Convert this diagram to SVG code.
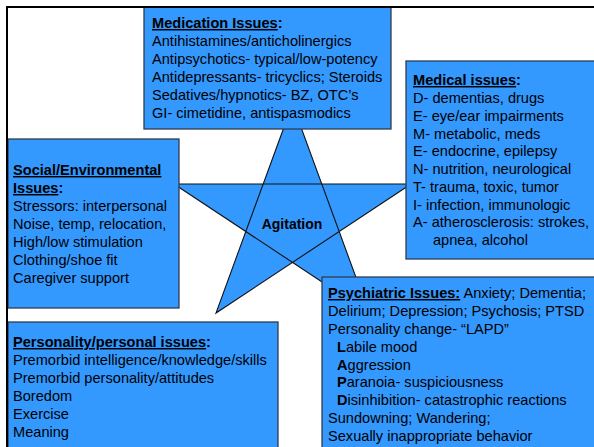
<svg xmlns="http://www.w3.org/2000/svg" width="594" height="447" viewBox="0 0 594 447">
  <style>
    .box { fill: #3399FF; stroke: #2f3d4f; stroke-width: 1.3; }
    .star { fill: #3399FF; stroke: #111; stroke-width: 1.1; stroke-linejoin: miter; }
    text { font-family: "Liberation Sans", Arial, sans-serif; font-size: 14.6px; fill: #000; }
    .h { font-weight: bold; }
    .u { text-decoration: underline; }
    .b { font-weight: bold; }
  </style>
  <rect width="594" height="447" fill="#fff"/>

  <g id="connectors">
    <!-- central five-point star, stroked so the crossing edges show -->
    <polygon class="star" points="292.5,104 216,313 411,184 174,184 369,313"/>
  </g>

  <g id="agitation">
    <text x="292" y="229" text-anchor="middle" class="h" style="font-size:14px">Agitation</text>
  </g>

  <g id="medication">
    <rect class="box" x="144" y="7" width="247" height="122"/>
    <text x="152" y="28"><tspan class="h u">Medication Issues</tspan><tspan class="h">:</tspan></text>
    <text x="152" y="46">Antihistamines/anticholinergics</text>
    <text x="152" y="64">Antipsychotics- typical/low-potency</text>
    <text x="152" y="82">Antidepressants- tricyclics; Steroids</text>
    <text x="152" y="100">Sedatives/hypnotics- BZ, OTC’s</text>
    <text x="152" y="118">GI- cimetidine, antispasmodics</text>
  </g>

  <g id="medical">
    <rect class="box" x="406" y="61" width="200" height="198"/>
    <text x="413" y="85"><tspan class="h u">Medical issues</tspan><tspan class="h">:</tspan></text>
    <text x="413" y="103">D- dementias, drugs</text>
    <text x="413" y="120.75">E- eye/ear impairments</text>
    <text x="413" y="138.5">M- metabolic, meds</text>
    <text x="413" y="156.25">E- endocrine, epilepsy</text>
    <text x="413" y="174">N- nutrition, neurological</text>
    <text x="413" y="191.75">T- trauma, toxic, tumor</text>
    <text x="413" y="209.5">I- infection, immunologic</text>
    <text x="413" y="227.25">A- atherosclerosis: strokes,</text>
    <text x="433" y="245">apnea, alcohol</text>
  </g>

  <g id="social">
    <rect class="box" x="8" y="139" width="171" height="169"/>
    <text x="13" y="175" class="h u">Social/Environmental</text>
    <text x="13" y="193"><tspan class="h u">Issues</tspan><tspan class="h">:</tspan></text>
    <text x="13" y="211">Stressors: interpersonal</text>
    <text x="13" y="229">Noise, temp, relocation,</text>
    <text x="13" y="247">High/low stimulation</text>
    <text x="13" y="265">Clothing/shoe fit</text>
    <text x="13" y="283">Caregiver support</text>
  </g>

  <g id="personality">
    <rect class="box" x="8" y="322" width="270" height="140"/>
    <text x="13" y="347"><tspan class="h u">Personality/personal issues</tspan><tspan class="h">:</tspan></text>
    <text x="13" y="365">Premorbid intelligence/knowledge/skills</text>
    <text x="13" y="383">Premorbid personality/attitudes</text>
    <text x="13" y="401">Boredom</text>
    <text x="13" y="419">Exercise</text>
    <text x="13" y="437">Meaning</text>
  </g>

  <g id="psychiatric">
    <rect class="box" x="322" y="277" width="290" height="185"/>
    <text x="328" y="298"><tspan class="h u">Psychiatric Issues:</tspan> Anxiety; Dementia;</text>
    <text x="328" y="316">Delirium; Depression; Psychosis; PTSD</text>
    <text x="328" y="334">Personality change- “LAPD”</text>
    <text x="337" y="351.5"><tspan class="b">L</tspan>abile mood</text>
    <text x="337" y="369.5"><tspan class="b">A</tspan>ggression</text>
    <text x="337" y="387"><tspan class="b">P</tspan>aranoia- suspiciousness</text>
    <text x="337" y="405"><tspan class="b">D</tspan>isinhibition- catastrophic reactions</text>
    <text x="328" y="423">Sundowning; Wandering;</text>
    <text x="328" y="440.5">Sexually inappropriate behavior</text>
  </g>

  <!-- page frame along the top and left edges -->
  <path d="M7,447 V7 H594" fill="none" stroke="#000" stroke-width="2"/>
</svg>
